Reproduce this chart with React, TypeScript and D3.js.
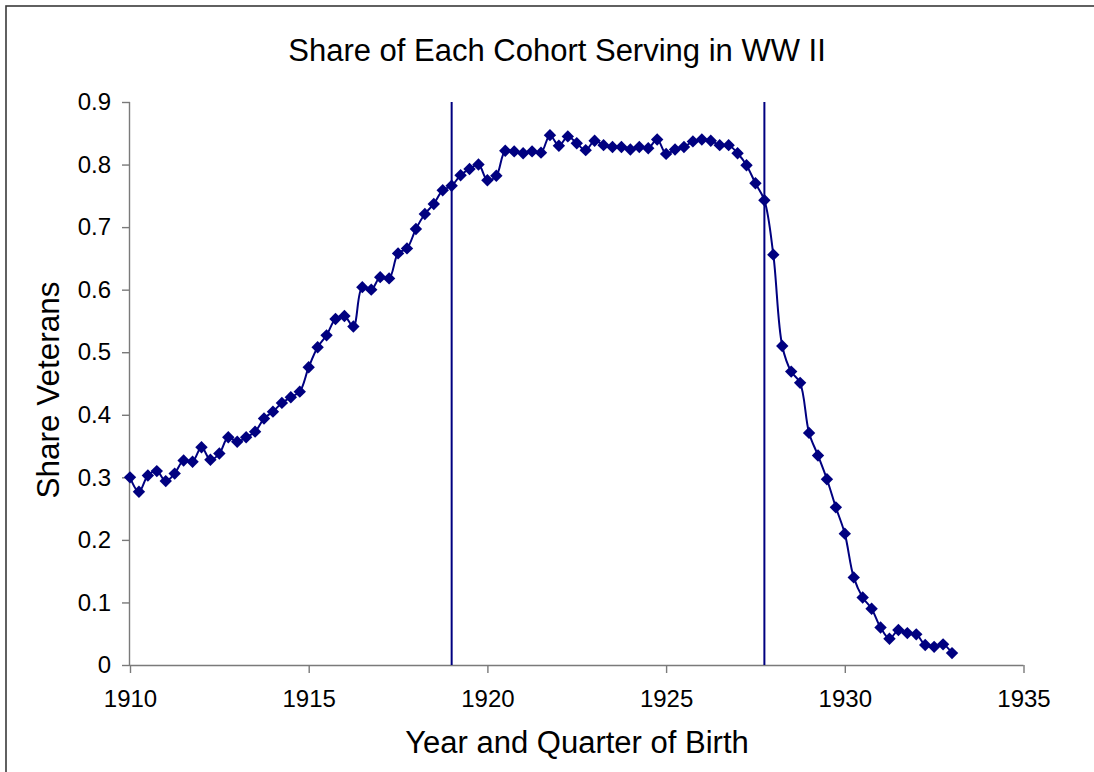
import React, { useEffect, useRef } from 'react'
import * as d3 from 'd3'

// share of each quarterly birth cohort that served, 1910Q1 .. 1933Q1
const firstCohort = 1910
const shareVeterans = [
  0.3, 0.277, 0.303, 0.31, 0.294, 0.306, 0.327, 0.325, 0.348, 0.328, 0.338, 0.364, 0.357, 0.364, 0.373, 0.394,
  0.405, 0.419, 0.428, 0.437, 0.476, 0.508, 0.527, 0.553, 0.558, 0.541, 0.604, 0.6, 0.62, 0.618, 0.658, 0.666,
  0.697, 0.721, 0.737, 0.759, 0.766, 0.783, 0.793, 0.8, 0.775, 0.782, 0.822, 0.821, 0.818, 0.821, 0.819, 0.847,
  0.83, 0.845, 0.834, 0.823, 0.838, 0.831, 0.828, 0.828, 0.824, 0.828, 0.826, 0.84, 0.817, 0.824, 0.828, 0.837,
  0.84, 0.838, 0.831, 0.831, 0.818, 0.799, 0.77, 0.743, 0.656, 0.51, 0.469, 0.451, 0.371, 0.335, 0.297, 0.252,
  0.21, 0.14, 0.108, 0.09, 0.06, 0.042, 0.056, 0.051, 0.049, 0.032, 0.029, 0.033, 0.019,
]
const xTicks = [1910, 1915, 1920, 1925, 1930, 1935]
const yTicks = [0, 0.1, 0.2, 0.3, 0.4, 0.5, 0.6, 0.7, 0.8, 0.9]
const cutoffs = [1919, 1927.75]

const W = 1094
const H = 772
const NAVY = '#000080'
const FONT = '"Liberation Sans", Arial, sans-serif'

export default function App() {
  const ref = useRef<SVGSVGElement>(null)

  useEffect(() => {
    const svg = d3.select(ref.current)
    svg.selectAll('*').remove()

    const x = d3.scaleLinear().domain([1910, 1935]).range([130, 1023.5])
    const y = d3.scaleLinear().domain([0, 0.9]).range([665, 102])

    // outer chart frame
    svg.append('rect')
      .attr('x', 6).attr('y', 6).attr('width', W + 20).attr('height', H + 20)
      .attr('fill', 'white').attr('stroke', '#3a3a3a').attr('stroke-width', 1.6)

    const yAxis = svg.append('g')
      .attr('transform', `translate(${x(1910)},0)`)
      .call(d3.axisLeft(y).tickValues(yTicks).tickSize(8).tickPadding(11).tickFormat(d3.format('')))
    const xAxis = svg.append('g')
      .attr('transform', `translate(0,${y(0)})`)
      .call(d3.axisBottom(x).tickValues(xTicks).tickSize(8).tickPadding(17).tickFormat(d3.format('d')))

    for (const g of [xAxis, yAxis]) {
      g.select('.domain').attr('stroke', '#7a7a7a').attr('stroke-width', 1.4)
      g.selectAll('.tick line').attr('stroke', '#7a7a7a').attr('stroke-width', 1.4)
      g.selectAll('.tick text').attr('fill', '#000').attr('font-size', 24).attr('font-family', FONT)
    }
    // x axis domain without outer tick stubs
    xAxis.select('.domain').attr('d', `M${x(1910)},0.5H${x(1935)}`)
    yAxis.select('.domain').attr('d', `M-0.5,${y(0.9)}V${y(0)}`)

    // WW II eligibility cutoffs
    svg.selectAll('line.cut')
      .data(cutoffs)
      .join('line')
      .attr('class', 'cut')
      .attr('x1', (d) => x(d)).attr('x2', (d) => x(d))
      .attr('y1', y(0.9)).attr('y2', y(0))
      .attr('stroke', NAVY).attr('stroke-width', 2)

    const pts = shareVeterans.map((v, i) => [firstCohort + i / 4, v] as [number, number])

    const line = d3.line<[number, number]>()
      .x((d) => x(d[0]))
      .y((d) => y(d[1]))
      .curve(d3.curveCatmullRom.alpha(0.5))

    svg.append('path')
      .datum(pts)
      .attr('d', line)
      .attr('fill', 'none')
      .attr('stroke', NAVY)
      .attr('stroke-width', 2)

    const r = 6.2
    svg.selectAll('path.mark')
      .data(pts)
      .join('path')
      .attr('class', 'mark')
      .attr('d', (d) => {
        const cx = x(d[0])
        const cy = y(d[1])
        return `M${cx},${cy - r}L${cx + r},${cy}L${cx},${cy + r}L${cx - r},${cy}Z`
      })
      .attr('fill', NAVY)

    svg.append('text')
      .attr('x', 557).attr('y', 61)
      .attr('text-anchor', 'middle')
      .attr('font-family', FONT).attr('font-size', 31)
      .text('Share of Each Cohort Serving in WW II')

    svg.append('text')
      .attr('x', 577).attr('y', 753)
      .attr('text-anchor', 'middle')
      .attr('font-family', FONT).attr('font-size', 31)
      .text('Year and Quarter of Birth')

    svg.append('text')
      .attr('transform', `translate(59,390) rotate(-90)`)
      .attr('text-anchor', 'middle')
      .attr('font-family', FONT).attr('font-size', 31.5)
      .text('Share Veterans')
  }, [])

  return (
    <svg
      ref={ref}
      width={W}
      height={H}
      style={{ position: 'absolute', left: 0, top: 0, background: 'white' }}
    />
  )
}
